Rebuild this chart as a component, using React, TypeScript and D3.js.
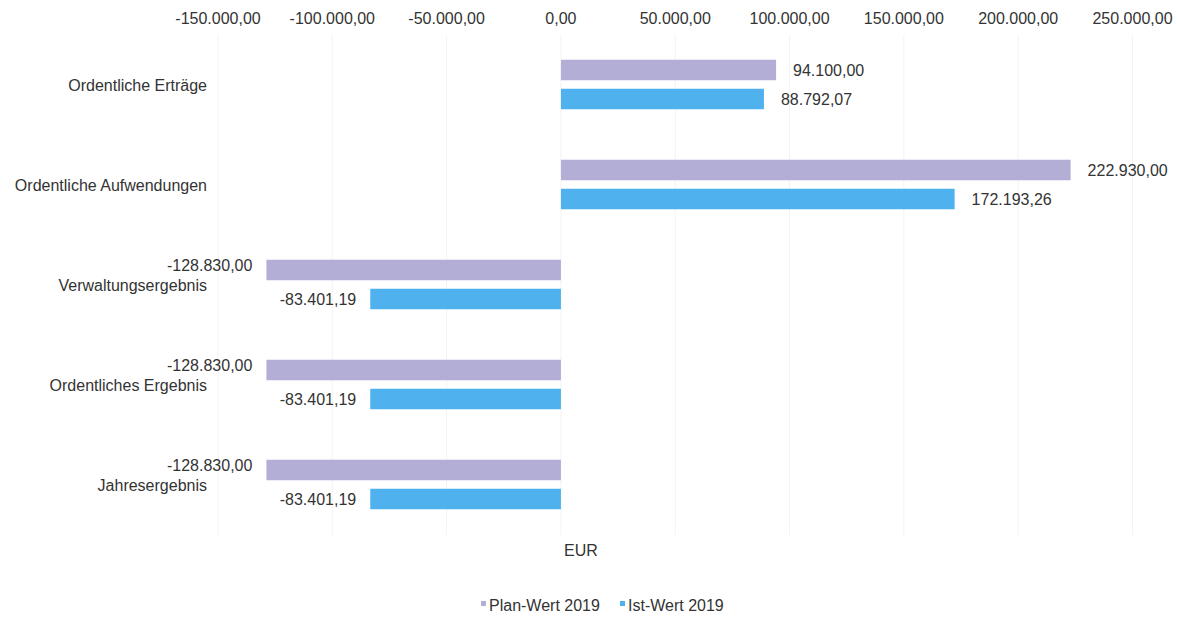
import React from "react";
import * as d3 from "d3";

const categories = [
  "Ordentliche Erträge",
  "Ordentliche Aufwendungen",
  "Verwaltungsergebnis",
  "Ordentliches Ergebnis",
  "Jahresergebnis",
];
const planValues = [94100.0, 222930.0, -128830.0, -128830.0, -128830.0];
const istValues = [88792.07, 172193.26, -83401.19, -83401.19, -83401.19];
const tickValues = [-150000, -100000, -50000, 0, 50000, 100000, 150000, 200000, 250000];
const seriesNames = ["Plan-Wert 2019", "Ist-Wert 2019"];
const axisTitle = "EUR";

const W = 1177;
const H = 618;
const PLAN_COLOR = "#b3aed6";
const IST_COLOR = "#4fb2ef";
const TEXT = "#333333";
const FONT = "'Liberation Sans', Arial, sans-serif";
const FS = 16;

const de = d3.formatLocale({
  decimal: ",",
  thousands: ".",
  grouping: [3],
  currency: ["", " €"],
  minus: "-",
});
const fmt = de.format(",.2f");

export default function App() {
  const x = d3.scaleLinear().domain([-150000, 250000]).range([218, 1132.5]);
  const y = d3.scaleBand<string>().domain(categories).range([35, 535]);
  const barH = 20.5;
  const series = [
    { name: seriesNames[0], values: planValues, color: PLAN_COLOR },
    { name: seriesNames[1], values: istValues, color: IST_COLOR },
  ];
  return (
    <svg width={W} height={H} style={{ position: "absolute", left: 0, top: 0, background: "#fff" }} fontFamily={FONT}>
      {tickValues.map((t) => (
        <g key={t}>
          <line x1={x(t)} x2={x(t)} y1={35} y2={535} stroke="#f3f3f3" strokeWidth={1} />
          <text x={x(t)} y={24} textAnchor="middle" fontSize={FS} fill={TEXT}>
            {fmt(t)}
          </text>
        </g>
      ))}
      {categories.map((c) => {
        const cy = (y(c) as number) + y.bandwidth() / 2;
        return (
          <text key={c} x={207} y={cy + 6} textAnchor="end" fontSize={FS} fill={TEXT}>
            {c}
          </text>
        );
      })}
      {series.map((s, si) =>
        categories.map((c, i) => {
          const v = s.values[i];
          const center = (y(c) as number) + (si === 0 ? 35 : 64);
          const x0 = x(Math.min(0, v));
          const x1 = x(Math.max(0, v));
          const lx = v >= 0 ? x1 + 17 : x0 - 14;
          const ly = si === 0 && v < 0 ? center + 1 : center + 6;
          return (
            <g key={s.name + c}>
              <rect x={x0} y={center - barH / 2} width={x1 - x0} height={barH} fill={s.color} />
              <text x={lx} y={ly} textAnchor={v >= 0 ? "start" : "end"} fontSize={FS} fill={TEXT}>
                {fmt(v)}
              </text>
            </g>
          );
        })
      )}
      <text x={581} y={556} textAnchor="middle" fontSize={FS} fill={TEXT}>
        {axisTitle}
      </text>
      {series.map((s, si) => {
        const lx = si === 0 ? 481 : 620;
        return (
          <g key={s.name}>
            <rect x={lx} y={601} width={5} height={5} fill={s.color} />
            <text x={lx + 8} y={611} fontSize={FS} fill={TEXT}>
              {s.name}
            </text>
          </g>
        );
      })}
    </svg>
  );
}
